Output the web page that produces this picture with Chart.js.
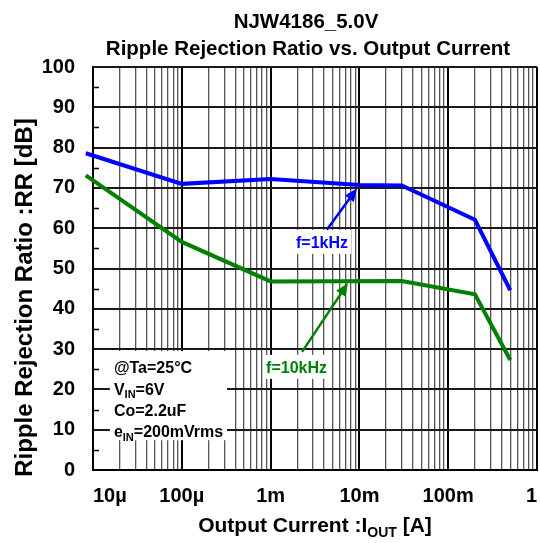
<!DOCTYPE html>
<html>
<head>
<meta charset="utf-8">
<script src="https://cdn.jsdelivr.net/npm/chart.js@4.4.0/dist/chart.umd.min.js"></script>
<style>
  body { margin: 0; background: #fff; }
  canvas { display: block; }
</style>
</head>
<body>
<canvas id="rrChart" width="540" height="543"></canvas>
<script>
// output current [A] and ripple rejection [dB]
const currentBlue = [8.3e-6, 1e-4, 1e-3, 1e-2, 3e-2, 0.2, 0.5];
const rr1kHz = [78.6, 71.0, 72.2, 70.7, 70.6, 62.1, 44.6];
const currentGreen = [8.3e-6, 1e-4, 1e-3, 3e-2, 0.2, 0.5];
const rr10kHz = [73.1, 56.6, 46.8, 46.9, 43.6, 27.3];

const decadeValues = [1e-5, 1e-4, 1e-3, 1e-2, 1e-1, 1];
const decadeLabels = ['10µ', '100µ', '1m', '10m', '100m', '1'];

const titleLines = ['NJW4186_5.0V', 'Ripple Rejection Ratio vs. Output Current'];
const xTitle = 'Output Current :I_{OUT} [A]';
const yTitle = 'Ripple Rejection Ratio :RR [dB]';
const conditions = ['@Ta=25°C', 'V_{IN}=6V', 'Co=2.2uF', 'e_{IN}=200mVrms'];

const FONT = "'Liberation Sans', Arial, sans-serif";
const BLUE = '#0000ff';
const GREEN = '#008000';

// every 1..9 x 10^n position of the log grid
const xTickValues = [];
decadeValues.forEach((d, i) => {
    if (i === decadeValues.length - 1) { xTickValues.push(d); return; }
    for (let k = 1; k <= 9; k++) xTickValues.push(d * k);
});

function isDecade(v) {
    const l = Math.log10(v);
    return Math.abs(l - Math.round(l)) < 1e-6;
}

function parseRich(str) {
    const out = [];
    const re = /_\{([^}]*)\}/g;
    let last = 0, m;
    while ((m = re.exec(str))) {
        if (m.index > last) out.push({ t: str.slice(last, m.index), sub: false });
        out.push({ t: m[1], sub: true });
        last = re.lastIndex;
    }
    if (last < str.length) out.push({ t: str.slice(last), sub: false });
    return out;
}

function drawRich(c, str, x, y, size, align) {
    const parts = parseRich(str);
    const subSize = Math.round(size * 0.68);
    const fontFor = p => 'bold ' + (p.sub ? subSize : size) + 'px ' + FONT;
    let total = 0;
    parts.forEach(p => { c.font = fontFor(p); p.w = c.measureText(p.t).width; total += p.w; });
    let cx = align === 'center' ? x - total / 2 : x;
    c.textAlign = 'left';
    c.textBaseline = 'alphabetic';
    parts.forEach(p => {
        c.font = fontFor(p);
        c.fillText(p.t, cx, p.sub ? y + size * 0.22 : y);
        cx += p.w;
    });
    return total;
}

function arrow(c, x1, y1, x2, y2, color) {
    const ang = Math.atan2(y2 - y1, x2 - x1);
    const len = 13, half = 5.5;
    c.strokeStyle = color;
    c.fillStyle = color;
    c.lineWidth = 2.5;
    c.beginPath();
    c.moveTo(x1, y1);
    c.lineTo(x2 - Math.cos(ang) * len * 0.8, y2 - Math.sin(ang) * len * 0.8);
    c.stroke();
    c.beginPath();
    c.moveTo(x2, y2);
    c.lineTo(x2 - Math.cos(ang) * len - Math.sin(ang) * half, y2 - Math.sin(ang) * len + Math.cos(ang) * half);
    c.lineTo(x2 - Math.cos(ang) * len + Math.sin(ang) * half, y2 - Math.sin(ang) * len - Math.cos(ang) * half);
    c.closePath();
    c.fill();
}

// labels with arrows, placed in data units
const curveLabels = [
    { text: 'f=1kHz', color: BLUE, at: [3.79e-3, 56.6], from: [4.3e-3, 59.6], to: [9.4e-3, 69.9] },
    { text: 'f=10kHz', color: GREEN, at: [1.96e-3, 25.6], from: [2.26e-3, 29.3], to: [7.45e-3, 46.4] }
];

const decorations = {
    id: 'decorations',
    afterDraw(chart) {
        const c = chart.ctx;
        const xs = chart.scales.x, ys = chart.scales.y;
        const area = chart.chartArea;
        c.save();

        // short inside ticks at the 5 dB marks
        c.strokeStyle = '#000';
        c.lineWidth = 1.5;
        for (let v = 5; v < 100; v += 10) {
            const y = Math.round(ys.getPixelForValue(v)) + 0.5;
            c.beginPath();
            c.moveTo(area.left, y);
            c.lineTo(area.left + 6, y);
            c.stroke();
        }

        // conditions box
        const bx1 = xs.getPixelForValue(1.55e-5), bx2 = xs.getPixelForValue(3.23e-4);
        const by1 = ys.getPixelForValue(29.5), by2 = ys.getPixelForValue(7.4);
        c.fillStyle = '#fff';
        c.fillRect(bx1, by1, bx2 - bx1, by2 - by1);
        c.fillStyle = '#000';
        const condY = [25.5, 20.2, 14.8, 9.6];
        conditions.forEach((s, i) => {
            drawRich(c, s, xs.getPixelForValue(1.72e-5), ys.getPixelForValue(condY[i]) + 6, 16, 'left');
        });

        // curve labels
        curveLabels.forEach(l => {
            const cx = xs.getPixelForValue(l.at[0]), cy = ys.getPixelForValue(l.at[1]);
            c.font = 'bold 16px ' + FONT;
            const w = c.measureText(l.text).width;
            c.fillStyle = '#fff';
            c.fillRect(cx - w / 2 - 3, cy - 12, w + 6, 24);
            c.fillStyle = l.color;
            drawRich(c, l.text, cx, cy + 6, 16, 'center');
            arrow(c, xs.getPixelForValue(l.from[0]), ys.getPixelForValue(l.from[1]),
                xs.getPixelForValue(l.to[0]), ys.getPixelForValue(l.to[1]), l.color);
        });

        // titles
        c.fillStyle = '#000';
        drawRich(c, titleLines[0], 306, 28, 20.5, 'center');
        drawRich(c, titleLines[1], 308, 55, 20.5, 'center');
        drawRich(c, xTitle, 315, 532, 21, 'center');
        c.translate(32, (area.top + area.bottom) / 2 + 29);
        c.rotate(-Math.PI / 2);
        drawRich(c, yTitle, 0, 0, 24, 'center');
        c.restore();
    }
};

const ctx = document.getElementById('rrChart').getContext('2d');
const rrChart = new Chart(ctx, {
    type: 'line',
    data: {
        datasets: [{
            label: 'f=1kHz',
            data: currentBlue.map((x, i) => ({ x: x, y: rr1kHz[i] })),
            borderColor: BLUE,
            borderWidth: 4,
            pointRadius: 0,
            tension: 0,
            fill: false,
            clip: false
        }, {
            label: 'f=10kHz',
            data: currentGreen.map((x, i) => ({ x: x, y: rr10kHz[i] })),
            borderColor: GREEN,
            borderWidth: 4,
            pointRadius: 0,
            tension: 0,
            fill: false,
            clip: false
        }]
    },
    options: {
        responsive: false,
        animation: false,
        layout: { padding: { top: 67, right: 3, left: 0, bottom: 0 } },
        plugins: {
            legend: { display: false },
            title: { display: false },
            tooltip: { enabled: false }
        },
        scales: {
            x: {
                type: 'logarithmic',
                min: 1e-5,
                max: 1,
                afterBuildTicks: s => { s.ticks = xTickValues.map(v => ({ value: v })); },
                afterFit: s => { s.height = 73; s.paddingLeft = 0; s.paddingRight = 0; },
                ticks: {
                    autoSkip: false,
                    maxRotation: 0,
                    align: 'inner',
                    padding: 14,
                    color: '#000',
                    font: { family: FONT, size: 20, weight: 'bold' },
                    callback: v => {
                        const i = decadeValues.findIndex(d => Math.abs(Math.log10(d) - Math.log10(v)) < 1e-6);
                        return i >= 0 ? decadeLabels[i] : '';
                    }
                },
                grid: {
                    drawTicks: false,
                    color: c => (c.tick && isDecade(c.tick.value)) ? '#000' : '#555',
                    lineWidth: c => (c.tick && isDecade(c.tick.value)) ? 2 : 1.3
                },
                border: { display: true, color: '#000', width: 2 }
            },
            y: {
                min: 0,
                max: 100,
                afterFit: s => { s.width = 93; s.paddingTop = 0; s.paddingBottom = 0; },
                ticks: {
                    stepSize: 10,
                    padding: 18,
                    color: '#000',
                    font: { family: FONT, size: 20, weight: 'bold' }
                },
                grid: { drawTicks: false, color: '#1a1a1a', lineWidth: 2 },
                border: { display: true, color: '#000', width: 2 }
            }
        }
    },
    plugins: [decorations]
});
</script>
</body>
</html>
